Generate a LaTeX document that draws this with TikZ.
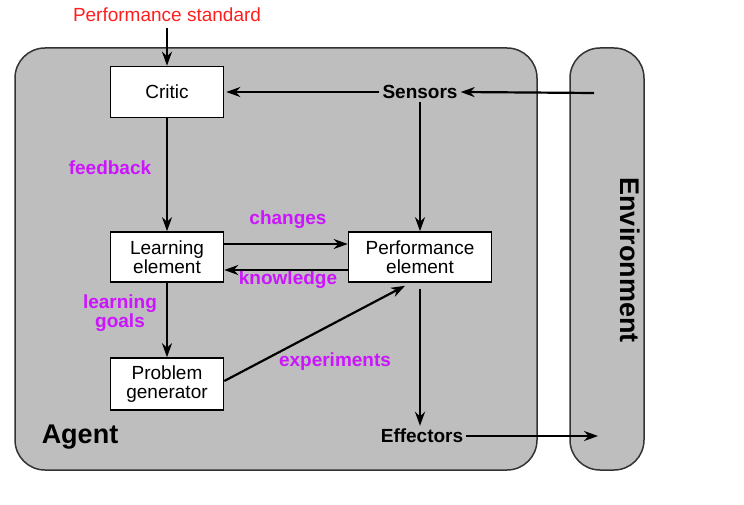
\documentclass[tikz,border=0pt]{standalone}
\usepackage{fontspec}
\setmainfont{Liberation Sans}
\usetikzlibrary{arrows.meta}
\definecolor{agentgray}{RGB}{190,190,190}
\definecolor{lblpurple}{RGB}{204,20,255}
\definecolor{stdred}{RGB}{255,30,30}
\begin{document}
\begin{tikzpicture}[x=1pt,y=-1pt,
  every node/.style={font=\fontsize{19}{19}\selectfont, inner sep=0pt},
  region/.style={draw=black!80, line width=1.5pt, fill=agentgray, rounded corners=30pt},
  compbox/.style={draw=black, line width=1.6pt, fill=white, align=center, minimum height=51pt},
  bfont/.style={font=\fontsize{19}{19}\selectfont\bfseries},
  lbl/.style={font=\fontsize{19}{19}\selectfont\bfseries, text=lblpurple, align=center},
  conn/.style={line width=2.2pt, -{Stealth[length=14pt,width=10pt]}}
]
\useasboundingbox (0,0) rectangle (744,505);
% regions
\draw[region] (15,48) rectangle (537,470);
\draw[region] (570,48) rectangle (644,470);
% texts and nodes
\node[text=stdred] (std) at (167,15) {Performance standard};
\node[compbox, minimum width=113pt] (critic) at (167,92) {Critic};
\node[compbox, minimum width=113pt, minimum height=50pt] (le) at (167,257) {Learning\\element};
\node[compbox, minimum width=143pt, minimum height=50pt] (pe) at (420,257) {Performance\\element};
\node[compbox, minimum width=113pt, minimum height=52pt] (pg) at (167,384) {Problem\\generator};
\node[bfont, inner sep=3pt] (sens) at (420,92) {Sensors};
\node[bfont, inner sep=3pt] (eff) at (422,436) {Effectors};
\node[font=\fontsize{27}{27}\selectfont\bfseries] (agent) at (80,437) {Agent};
\node[font=\fontsize{27}{27}\selectfont\bfseries, rotate=-90] (env) at (630,260) {Environment};
\node[lbl] (fb) at (110,168) {feedback};
\node[lbl] (ch) at (288,220) {changes};
\node[lbl] (kn) at (288,280) {knowledge};
\node[lbl] (lg) at (120,313) {learning\\goals};
\node[lbl] (ex) at (335,362) {experiments};
\coordinate (envin) at (594,93);
\coordinate (envout) at (598,436);
% connectors
\draw[conn] (std.south |- 0,28) -- (critic.north);
\draw[conn] (envin) -- (sens.east);
\draw[conn] (sens.west) -- ([xshift=2pt]critic.east);
\draw[conn] (sens.south) -- (pe.north);
\draw[conn] (critic.south) -- (le.north);
\draw[conn] ([yshift=13pt]le.east) -- ([yshift=13pt]pe.west);
\draw[conn] ([yshift=-13pt]pe.west) -- ([yshift=-13pt]le.east);
\draw[conn] (le.south) -- (pg.north);
\draw[conn] ([yshift=3pt]pg.east) -- ([xshift=-15pt,yshift=-3pt]pe.south);
\draw[conn] ([yshift=-6pt]pe.south) -- (pe.south |- eff.north);
\draw[conn] (eff.east) -- (envout);
\end{tikzpicture}
\end{document}
